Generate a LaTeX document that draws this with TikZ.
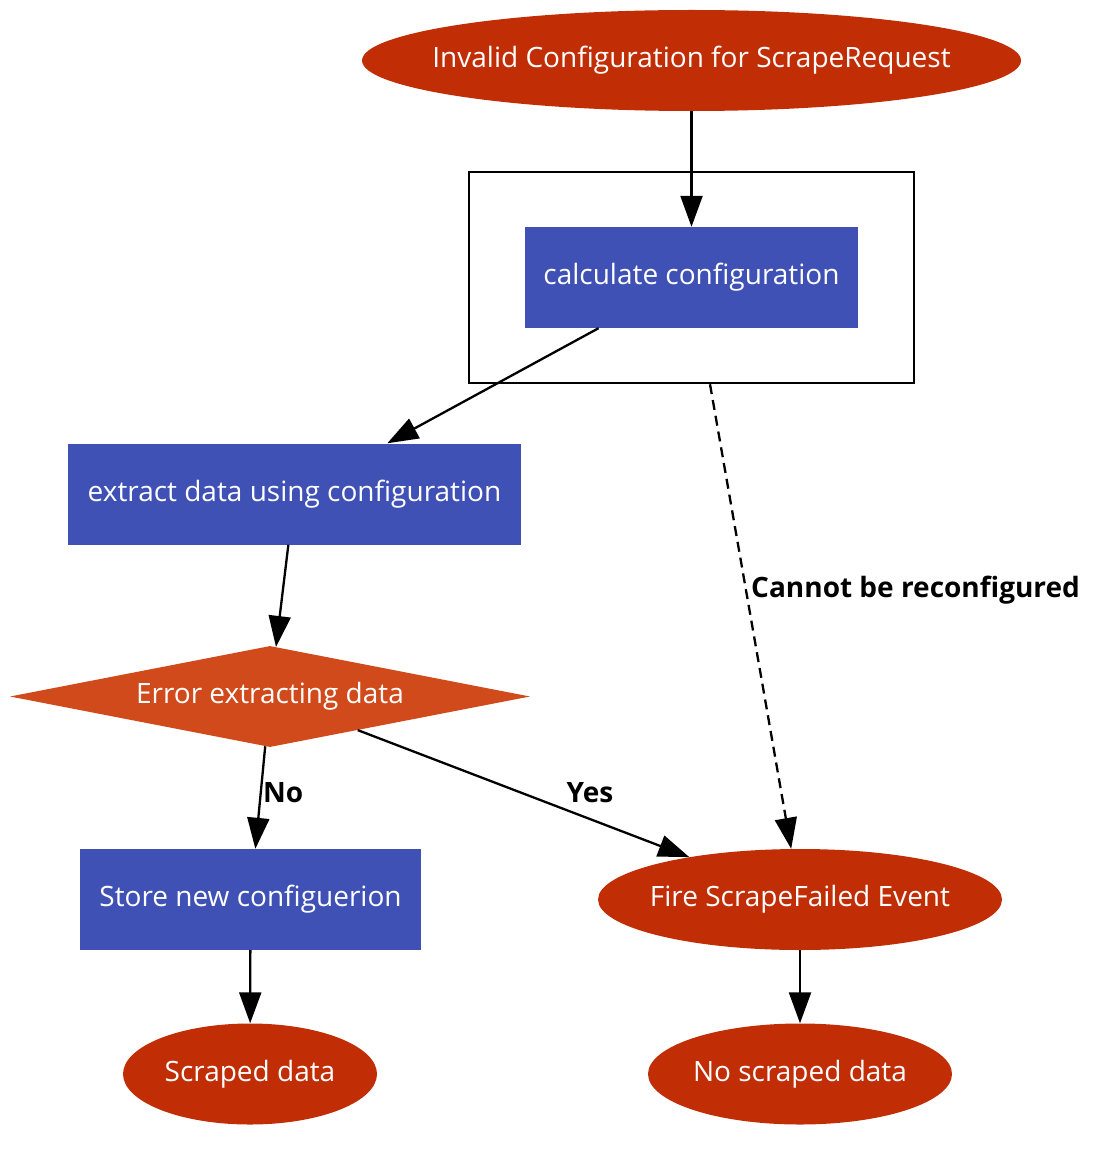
\documentclass[tikz,border=0pt]{standalone}
\usepackage{fontspec}
\setmainfont{Open Sans}
\usetikzlibrary{shapes.geometric,arrows.meta}
\definecolor{redfill}{RGB}{193,46,6}
\definecolor{bluefill}{RGB}{63,81,181}
\definecolor{diafill}{RGB}{208,74,28}
\newcommand{\zw}[1]{\makebox[0pt]{#1}}
\tikzset{
  x=1pt, y=-1pt,
  every node/.style={font=\fontsize{28}{32}\selectfont, inner sep=0pt},
  ellnode/.style={ellipse, fill=redfill, text=white, minimum height=101pt},
  boxnode/.style={rectangle, fill=bluefill, text=white, minimum height=101pt},
  dianode/.style={diamond, fill=diafill, text=white, minimum width=520pt, minimum height=101pt, aspect=5.15},
  lbl/.style={font=\fontsize{28}{32}\selectfont\bfseries, text=black},
  conn/.style={line width=2.3pt, -{Triangle[length=31pt,width=22pt]}},
}
\begin{document}
\begin{tikzpicture}
\useasboundingbox (0,0) rectangle (1117,1150);
\node[ellnode, minimum width=659pt] (top) at (691.5,60.5) {\zw{Invalid Configuration for ScrapeRequest}};
\node[draw=black, line width=2.5pt, rectangle, minimum width=445pt, minimum height=211pt] (cluster) at (691.5,277.5) {};
\node[boxnode, minimum width=333pt] (calc) at (691.5,277.5) {calculate configuration};
\node[boxnode, minimum width=453pt] (extract) at (294.5,494) {extract data using configuration};
\node[dianode] (err) at (270,696.5) {Error extracting data};
\node[boxnode, minimum width=341pt] (store) at (250.5,899.5) {Store new configuerion};
\node[ellnode, minimum width=404pt] (fire) at (800,899.5) {\zw{Fire ScrapeFailed Event}};
\node[ellnode, minimum width=254pt] (scraped) at (250,1074) {\zw{Scraped data}};
\node[ellnode, minimum width=304pt] (noscraped) at (800,1074) {\zw{No scraped data}};

\draw[conn] (top) -- (calc);
\draw[conn] (calc) -- (extract);
\draw[conn] (extract) -- (err);
\draw[conn] (err) -- (store);
\draw[conn] (err) -- (fire);
\draw[conn, dashed, dash pattern=on 10pt off 6pt] (cluster) -- (fire);
\draw[conn] (store) -- (scraped);
\draw[conn] (fire) -- (noscraped);

\node[lbl, anchor=west] (lno) at (263,793) {No};
\node[lbl] (lyes) at (590,793) {Yes};
\node[lbl, anchor=west] (lcan) at (751,590) {Cannot be reconfigured};
\end{tikzpicture}
\end{document}
